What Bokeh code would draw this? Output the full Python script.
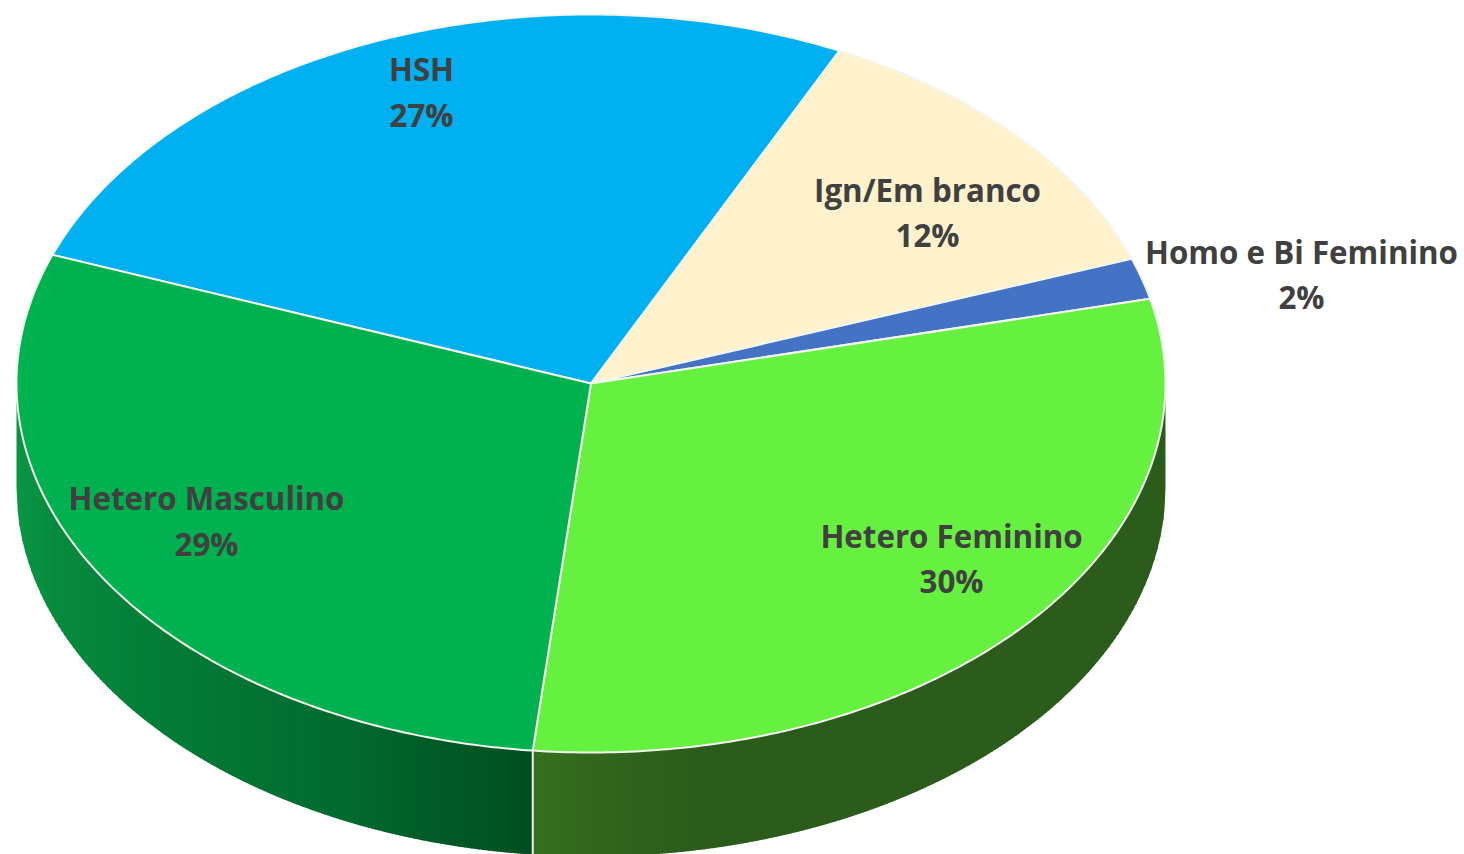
import numpy as np
from bokeh.plotting import figure
from bokeh.models import Range1d, ColumnDataSource
from bokeh.core.properties import value
from bokeh.embed import file_html
from bokeh.resources import INLINE

# --- data, clockwise from the HSH slice ---
categories = ["HSH", "Ign/Em branco", "Homo e Bi Feminino", "Hetero Feminino", "Hetero Masculino"]
shares = [26.45, 12.4, 1.8, 30.3, 29.05]          # slice sizes
percent_labels = ["27%", "12%", "2%", "30%", "29%"]

# --- style and layout ---
slice_colors = ["#00B0F0", "#FFF2CC", "#4472C4", "#66F03F", "#00B14F"]
label_x = [421, 927, 1301, 951, 206]
label_y_name = [68.5, 189.5, 251.5, 535.5, 497.5]
label_y_pct = [114.5, 234.5, 296.5, 580.5, 543.5]
CX, CY, RX, RY, DEPTH = 590.5, 383.0, 574.5, 369.0, 104.0
START_DEG = 159.6
WIDTH, HEIGHT = 1464, 854


def hex2rgb(h):
    return np.array([int(h[i:i + 2], 16) for i in (1, 3, 5)], float)


def ramp(x, stops):
    xs = [s[0] for s in stops]
    rgb = [np.interp(x, xs, [hex2rgb(s[1])[k] for s in stops]) for k in range(3)]
    return "#%02x%02x%02x" % tuple(int(round(c)) for c in rgb)


p = figure(width=WIDTH, height=HEIGHT, output_backend="svg", toolbar_location=None,
           x_range=Range1d(0, WIDTH), y_range=Range1d(HEIGHT, 0),
           min_border=0, outline_line_color=None, background_fill_color="white",
           border_fill_color="white")
p.axis.visible = False
p.grid.visible = False

# slice boundaries from the shares
frac = np.cumsum([0] + shares) / sum(shares)
angles = np.radians(START_DEG) - frac * 2 * np.pi
boundary_x = CX + RX * np.cos(angles[4])
boundary_y = CY - RY * np.sin(angles[4])


def top(x):
    return CY + RY * np.sqrt(np.clip(1 - ((x - CX) / RX) ** 2, 0, 1))


# side wall: narrow strips carrying a horizontal colour ramp
left_stops = [(CX - RX, "#0A9644"), (60, "#068A3E"), (140, "#047F38"), (250, "#027333"),
              (350, "#026A2F"), (440, "#015A27"), (490, "#005523"), (boundary_x, "#004D22")]
right_stops = [(boundary_x, "#386F1E"), (620, "#2F641C"), (700, "#2B5C1B"), (CX + RX, "#2B5C1B")]
xs, ys, cols = [], [], []
for a, b, stops in ((CX - RX, boundary_x, left_stops), (boundary_x, CX + RX, right_stops)):
    edges = np.linspace(a, b, int((b - a) / 3) + 2)
    for i in range(len(edges) - 1):
        x0 = edges[i]
        x1 = min(edges[i + 1] + 1, b)
        sx = np.linspace(x0, x1, 4)
        xs.append(list(sx) + list(sx[::-1]))
        ys.append(list(top(sx)) + list(top(sx[::-1]) + DEPTH))
        cols.append(ramp((x0 + x1) / 2, stops))
p.patches("x", "y", source=ColumnDataSource(dict(x=xs, y=ys, c=cols)),
          fill_color="c", line_color=None)

# white seam on the wall
p.line([boundary_x, boundary_x], [boundary_y, boundary_y + DEPTH + 4],
       line_color="#EEF4EA", line_width=2)

# top face
sx, sy = [], []
for i in range(len(shares)):
    th = np.linspace(angles[i], angles[i + 1], 160)
    sx.append([CX] + list(CX + RX * np.cos(th)))
    sy.append([CY] + list(CY - RY * np.sin(th)))
p.patches("x", "y", source=ColumnDataSource(dict(x=sx, y=sy, c=slice_colors)),
          fill_color="c", line_color="#F2F6EE", line_width=2, line_join="round")

# labels
font = value("Open Sans")
p.text(label_x, label_y_name, text=categories, text_font=font, text_font_style="bold",
       text_font_size="31.3px", text_color="#404040", text_align="center", text_baseline="middle")
p.text(label_x, label_y_pct, text=percent_labels, text_font=font, text_font_style="bold",
       text_font_size="31.3px", text_color="#404040", text_align="center", text_baseline="middle")

open("out.html", "w").write(file_html(p, INLINE))
